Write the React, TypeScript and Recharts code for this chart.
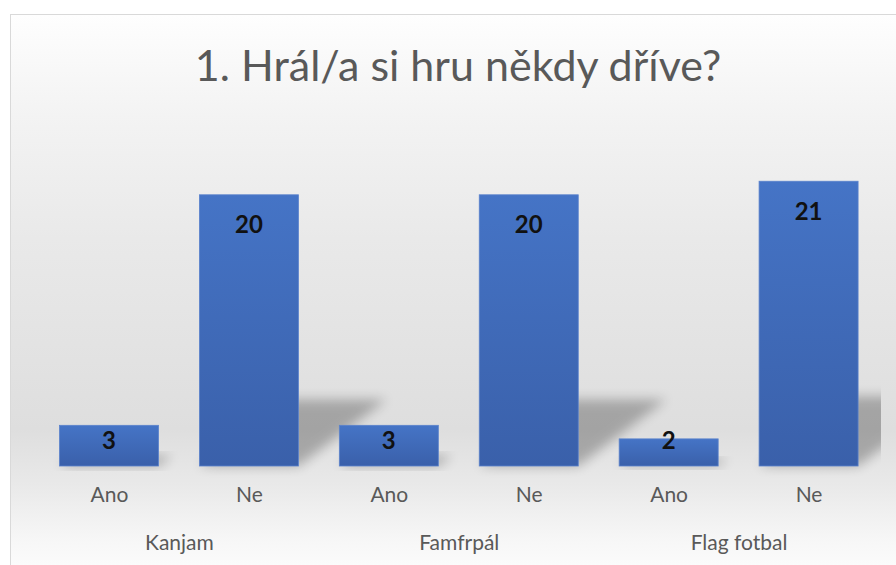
import { BarChart, Bar, XAxis, YAxis } from 'recharts'

const games = ['Kanjam', 'Famfrpál', 'Flag fotbal']
const answers = ['Ano', 'Ne']
const anoValues = [3, 3, 2]
const neValues = [20, 20, 21]

const data = games.flatMap((game, i) => [
  { game, answer: answers[0], count: anoValues[i] },
  { game, answer: answers[1], count: neValues[i] },
])

const FONT = 'Lato, "Open Sans", sans-serif'
const GREY = '#595959'

function ShadowBar(props: any) {
  const { x, y, width, height } = props
  if (!height) return null
  const base = y + height
  const dx = height * 0.325
  const dy = height * 0.245
  const shadow = `${x},${base} ${x + width},${base} ${x + width + dx},${base - dy} ${x + dx},${base - dy}`
  return (
    <g>
      <g clipPath="url(#plotClip)">
        <polygon points={shadow} fill="#000" opacity={0.26} filter="url(#barShadow)" />
      </g>
      <rect x={x} y={y} width={width} height={height} fill="url(#barFill)" stroke="#5a82cc" strokeWidth={0.8} />
    </g>
  )
}

function renderValue(props: any) {
  const { x, y, width, height, value } = props
  const off = height > 100 ? 29 : height > 35 ? 14 : 1
  return (
    <text
      x={x + width / 2}
      y={y + off}
      textAnchor="middle"
      dominantBaseline="central"
      fontFamily={FONT}
      fontWeight={700}
      fontSize={24}
      fill="#111"
    >
      {value}
    </text>
  )
}

export default function App() {
  return (
    <div style={{ position: 'fixed', left: 0, top: 0, width: 896, height: 565, overflow: 'hidden', background: '#fff' }}>
      <div
        style={{
          position: 'absolute',
          left: 10,
          top: 14,
          width: 900,
          height: 560,
          border: '1px solid #d9d9d9',
          background:
            'linear-gradient(to bottom, #fefefe 0%, #f3f3f3 18%, #e9e9e9 40%, #dedede 74%, #e9e9e9 84%, #f7f7f7 94%, #fdfdfd 100%)',
        }}
      >
        <div
          style={{
            position: 'absolute',
            left: 0,
            top: 28,
            width: 894,
            textAlign: 'center',
            fontFamily: FONT,
            fontSize: 43,
            lineHeight: 1,
            color: GREY,
          }}
        >
          1. Hrál/a si hru někdy dříve?
        </div>
        <BarChart width={886} height={551} data={data} margin={{ top: 112, right: 18, left: 28.5, bottom: 0 }}>
          <defs>
            <linearGradient id="barFill" x1="0" y1="0" x2="0" y2="1">
              <stop offset="0%" stopColor="#4574c6" />
              <stop offset="100%" stopColor="#3a60aa" />
            </linearGradient>
            <filter id="barShadow" x="-50%" y="-50%" width="200%" height="200%">
              <feGaussianBlur stdDeviation="6" />
            </filter>
            <clipPath id="plotClip">
              <rect x={0} y={0} width={870} height={551} />
            </clipPath>
          </defs>
          <YAxis hide domain={[0, 25]} />
          <XAxis
            xAxisId="answer"
            dataKey="answer"
            height={50}
            interval={0}
            axisLine={false}
            tickLine={false}
            tickMargin={15}
            tick={{ fontSize: 21, fill: GREY, fontFamily: FONT }}
          />
          <XAxis
            xAxisId="game"
            dataKey="game"
            allowDuplicatedCategory={false}
            height={50}
            interval={0}
            axisLine={false}
            tickLine={false}
            tickMargin={13}
            tick={{ fontSize: 21, fill: GREY, fontFamily: FONT }}
          />
          <Bar
            xAxisId="answer"
            dataKey="count"
            barSize={99}
            shape={ShadowBar}
            label={renderValue}
            isAnimationActive={false}
          />
        </BarChart>
      </div>
    </div>
  )
}
